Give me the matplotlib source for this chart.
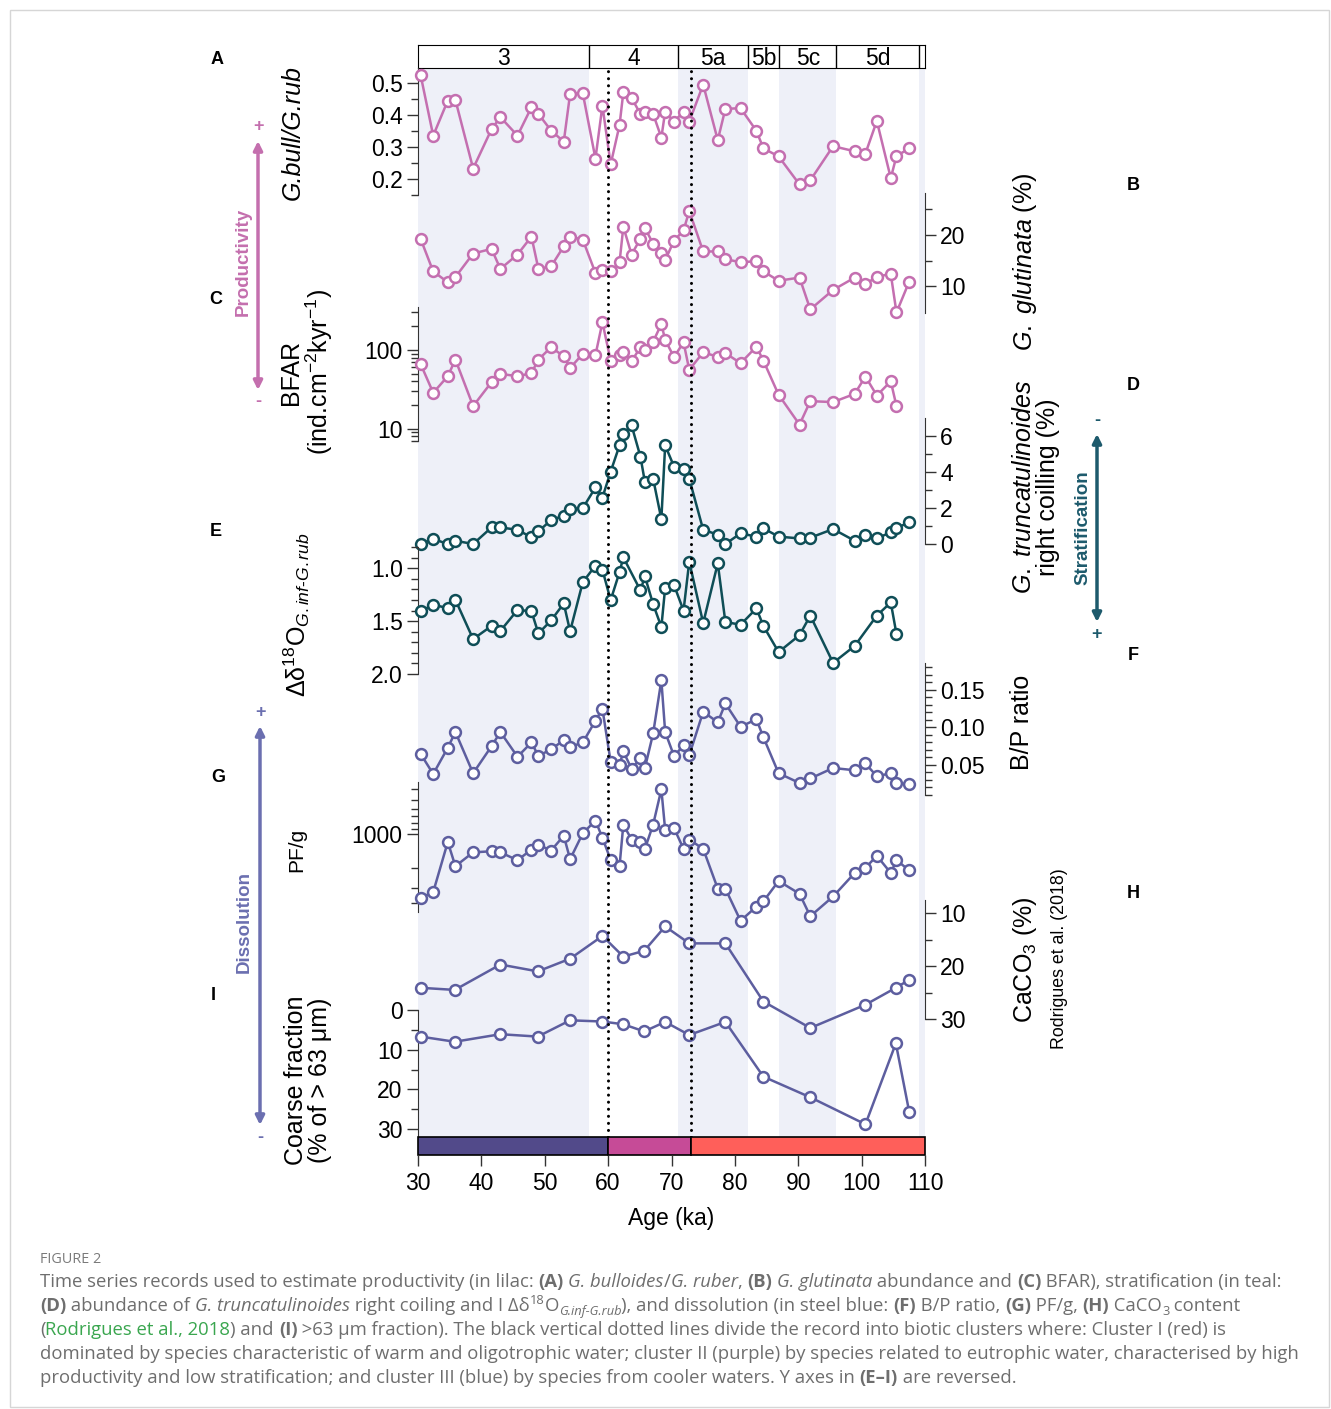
import matplotlib
matplotlib.use("Agg")
import matplotlib.pyplot as plt
from matplotlib.patches import Rectangle, FancyArrowPatch
from matplotlib.ticker import MultipleLocator, NullFormatter, FixedLocator

plt.rcParams['font.family'] = ['Liberation Sans', 'DejaVu Sans']
plt.rcParams['mathtext.fontset'] = 'custom'
plt.rcParams['mathtext.rm'] = 'Liberation Sans'
plt.rcParams['mathtext.it'] = 'Liberation Sans:italic'
plt.rcParams['mathtext.bf'] = 'Liberation Sans:bold'

W, H = 1331, 1409
LILAC = '#c46fb0'
TEAL = '#0f4e57'
STEEL = '#5d5e9f'

# ---- data (ages in ka) ----
AGE = [30.4, 32.4, 34.7, 35.9, 38.7, 41.6, 43.0, 45.7, 47.9, 49.0, 51.0, 53.0, 54.0, 56.0,
       58.0, 59.1, 60.4, 61.8, 62.4, 63.7, 65.1, 65.8, 67.1, 68.4, 69.0, 70.4, 71.9, 72.8,
       75.0, 77.3, 78.5, 80.9, 83.4, 84.5, 86.9, 90.2, 91.9, 95.5, 98.9, 100.6, 102.4,
       104.6, 105.5, 107.5]
BULL_RUB = [0.526, 0.335, 0.445, 0.447, 0.232, 0.355, 0.393, 0.335, 0.424, 0.403,
            0.351, 0.316, 0.466, 0.468, 0.263, 0.429, 0.245, 0.368, 0.471, 0.453,
            0.403, 0.41, 0.403, 0.329, 0.41, 0.379, 0.41, 0.379, 0.495, 0.321,
            0.419, 0.421, 0.35, 0.295, 0.27, 0.182, 0.195, 0.302, 0.286, 0.279,
            0.381, 0.202, 0.271, 0.295]
GLUT = [19.3, 12.9, 10.8, 11.8, 16.4, 17.3, 13.4, 16.2, 19.7, 13.4,
        13.9, 17.8, 19.7, 19.1, 12.6, 13.2, 12.9, 14.7, 21.6, 16.2,
        19.3, 21.4, 18.3, 16.5, 15.1, 18.9, 20.9, 24.7, 16.8, 16.8,
        15.3, 14.7, 14.9, 12.9, 11.1, 11.7, 5.5, 9.3, 11.7, 10.4,
        11.9, 12.4, 4.9, 10.9]
AGE_BFAR = AGE[:-1]
BFAR = [66.6, 28.6, 46.4, 75.5, 19.4, 39, 49.7, 46.4, 50.7, 75.5,
        108, 83, 59, 89, 86, 224, 73, 85, 93, 72,
        108, 100, 127, 213, 134, 81, 125, 56, 93, 82,
        91, 68, 110, 73, 27, 11.3, 22.4, 21.8, 27.7, 46,
        26.4, 40, 19.4]
TRUNC = [0.0, 0.28, 0.0, 0.18, 0.0, 0.92, 0.92, 0.79, 0.37, 0.70,
         1.33, 1.57, 1.94, 1.99, 3.14, 2.58, 4.02, 5.48, 6.13, 6.59,
         4.85, 3.45, 3.63, 1.38, 5.48, 4.30, 4.19, 3.63, 0.79, 0.52,
         0.0, 0.59, 0.41, 0.87, 0.41, 0.31, 0.35, 0.83, 0.18, 0.52,
         0.31, 0.65, 0.89, 1.20]
AGE_DELTA = [30.4, 32.4, 34.7, 35.9, 38.7, 41.6, 43.0, 45.7, 47.9, 49.0, 51.0, 53.0, 54.0,
             56.0, 58.0, 59.1, 60.4, 61.8, 62.4, 65.1, 65.8, 67.1, 68.4, 69.0, 70.4, 71.9,
             72.8, 75.0, 77.3, 78.5, 80.9, 83.4, 84.5, 86.9, 90.2, 91.9, 95.5, 98.9, 102.4,
             104.6, 105.5]
DELTA = [1.407, 1.346, 1.377, 1.299, 1.670, 1.546, 1.593, 1.395, 1.407, 1.617,
         1.494, 1.333, 1.596, 1.133, 0.975, 1.015, 1.302, 1.037, 0.898, 1.210,
         1.077, 1.340, 1.556, 1.185, 1.160, 1.401, 0.938, 1.519, 0.954, 1.509,
         1.534, 1.380, 1.546, 1.793, 1.633, 1.448, 1.895, 1.735, 1.448, 1.324, 1.623]
BP = [0.065, 0.038, 0.073, 0.094, 0.039, 0.075, 0.094, 0.061, 0.080, 0.062,
      0.071, 0.083, 0.074, 0.080, 0.109, 0.125, 0.054, 0.050, 0.068, 0.045,
      0.059, 0.046, 0.092, 0.163, 0.094, 0.062, 0.076, 0.063, 0.121, 0.107,
      0.132, 0.101, 0.111, 0.087, 0.039, 0.026, 0.032, 0.046, 0.043, 0.052,
      0.035, 0.039, 0.026, 0.024]
PFG = [3640, 3228, 1175, 1915, 1448, 1418, 1448, 1698, 1369, 1241,
       1397, 1035, 1664, 986, 762, 1080, 1687, 1915, 828, 1118,
       1175, 1350, 828, 406, 920, 888, 1350, 1118, 1350, 3013,
       3013, 5770, 4325, 3897, 2583, 3342, 5262, 3532, 2198, 1982,
       1552, 2198, 1698, 2080]
AGE_CARB = [30.4, 35.8, 43.0, 48.9, 54.0, 59.1, 62.4, 65.7, 69.0, 72.8, 78.5, 84.5,
            91.9, 100.6, 105.4, 107.5]
CACO3 = [24.1, 24.5, 19.7, 21.0, 18.6, 14.3, 18.2, 17.1, 12.5, 15.7, 15.7, 26.7,
         31.7, 27.3, 24.1, 22.6]
COARSE = [6.7, 8.0, 6.1, 6.7, 2.6, 2.9, 3.6, 5.4, 3.0, 6.3, 3.0, 16.8,
          22.0, 28.8, 8.4, 25.6]

MIS_EDGES = [30, 57, 71, 82, 87, 96, 109, 110]
MIS_LABELS = ['3', '4', '5a', '5b', '5c', '5d', '']
MIS_SHADED = [True, False, True, False, True, False, True]
CLUSTER_EDGES = [30, 60, 73, 110]
CLUSTER_COLORS = ['#524a8a', '#c64b97', '#ff5f5a']
XTICKS = [30, 40, 50, 60, 70, 80, 90, 100, 110]

fig = plt.figure(figsize=(W / 100, H / 100), dpi=100)


def rect(x0, y0, x1, y1):
    return [x0 / W, 1 - y1 / H, (x1 - x0) / W, (y1 - y0) / H]


def fxy(x, y):
    return (x / W, 1 - y / H)


X0, X1 = 418, 925
FS = 16.5

# figure frame
fig.add_artist(Rectangle(fxy(10, 1407), 1319 / W, 1397 / H, transform=fig.transFigure,
                         fill=False, edgecolor='#d6d6d6', lw=1))

# MIS shading
bg = fig.add_axes(rect(X0, 68, X1, 1137), zorder=0)
bg.set_xlim(30, 110)
bg.axis('off')
for a, b, s in zip(MIS_EDGES[:-1], MIS_EDGES[1:], MIS_SHADED):
    if s:
        bg.axvspan(a, b, color='#eef0f8', lw=0)

# MIS header
hd = fig.add_axes(rect(X0, 45, X1, 68), zorder=3)
hd.set_xlim(30, 110)
hd.set_ylim(0, 1)
hd.set_xticks([])
hd.set_yticks([])
for e in MIS_EDGES[1:-1]:
    hd.axvline(e, color='black', lw=1)
for a, b, lab in zip(MIS_EDGES[:-1], MIS_EDGES[1:], MIS_LABELS):
    hd.text((a + b) / 2, 0.42, lab, ha='center', va='center', fontsize=FS)


def panel(top, bot, ylim, side, log=False):
    ax = fig.add_axes(rect(X0, top, X1, bot), zorder=4)
    ax.patch.set_visible(False)
    ax.set_xlim(30, 110)
    if log:
        ax.set_yscale('log')
    ax.set_ylim(*ylim)
    for s in ['top', 'bottom', 'left', 'right']:
        ax.spines[s].set_visible(s == side)
    ax.spines[side].set_color('#333333')
    ax.set_xticks([])
    if side == 'right':
        ax.yaxis.tick_right()
    else:
        ax.yaxis.tick_left()
    ax.tick_params(axis='y', which='major', length=8, width=1, labelsize=FS, pad=3,
                   color='#333333')
    ax.tick_params(axis='y', which='minor', length=5, width=1, color='#333333')
    return ax


def series(ax, x, y, c):
    ax.plot(x, y, '-o', color=c, lw=1.8, ms=7.8, mfc='white', mec=c, mew=1.8,
            clip_on=False, zorder=5)


# A
ax = panel(68, 195, (0.149, 0.547), 'left')
ax.set_yticks([0.2, 0.3, 0.4, 0.5])
ax.yaxis.set_minor_locator(MultipleLocator(0.05))
series(ax, AGE, BULL_RUB, LILAC)

# B
ax = panel(193, 313, (4.8, 28.2), 'right')
ax.set_yticks([10, 20])
ax.yaxis.set_minor_locator(FixedLocator([15, 25]))
series(ax, AGE, GLUT, LILAC)

# C
ax = panel(307, 441, (7, 350), 'left', log=True)
ax.set_yticks([10, 100])
ax.set_yticklabels(['10', '100'])
ax.yaxis.set_minor_formatter(NullFormatter())
series(ax, AGE_BFAR, BFAR, LILAC)

# D
ax = panel(418, 544, (0, 7), 'right')
ax.set_yticks([0, 2, 4, 6])
ax.yaxis.set_minor_locator(FixedLocator([1, 3, 5]))
series(ax, AGE, TRUNC, TEAL)

# E
ax = panel(547, 674, (2.0, 0.8), 'left')
ax.set_yticks([1.0, 1.5, 2.0])
ax.set_yticklabels(['1.0', '1.5', '2.0'])
ax.yaxis.set_minor_locator(MultipleLocator(0.1))
series(ax, AGE_DELTA, DELTA, TEAL)

# F
ax = panel(663, 795, (0.01, 0.186), 'right')
ax.set_yticks([0.05, 0.10, 0.15])
ax.set_yticklabels(['0.05', '0.10', '0.15'])
ax.yaxis.set_minor_locator(MultipleLocator(0.01))
series(ax, AGE, BP, STEEL)

# G
ax = panel(782, 912, (4830, 350), 'left', log=True)
ax.set_yticks([1000])
ax.set_yticklabels(['1000'])
ax.yaxis.set_minor_formatter(NullFormatter())
series(ax, AGE, PFG, STEEL)

# H
ax = panel(900, 1019, (30, 7.5), 'right')
ax.set_yticks([10, 20, 30])
ax.yaxis.set_minor_locator(FixedLocator([15, 25]))
series(ax, AGE_CARB, CACO3, STEEL)

# I
ax = panel(1010, 1137, (32, 0), 'left')
ax.set_yticks([0, 10, 20, 30])
ax.yaxis.set_minor_locator(FixedLocator([5, 15, 25]))
series(ax, AGE_CARB, COARSE, STEEL)

# cluster bar
cb = fig.add_axes(rect(X0, 1137, X1, 1155), zorder=6)
cb.set_xlim(30, 110)
cb.set_ylim(0, 1)
for a, b, c in zip(CLUSTER_EDGES[:-1], CLUSTER_EDGES[1:], CLUSTER_COLORS):
    cb.add_patch(Rectangle((a, 0), b - a, 1, facecolor=c, edgecolor='black', lw=1.2,
                           clip_on=False))
for s in cb.spines.values():
    s.set_visible(False)
cb.set_yticks([])
cb.set_xticks(XTICKS)
cb.tick_params(axis='x', length=8, width=1, labelsize=FS, pad=4, color='#333333')
cb.set_xlabel('Age (ka)', fontsize=FS, labelpad=9)

# dotted cluster boundaries
dl = fig.add_axes(rect(X0, 68, X1, 1137), zorder=10)
dl.axis('off')
dl.set_xlim(30, 110)
dl.set_ylim(0, 1)
for c in CLUSTER_EDGES[1:-1]:
    dl.axvline(c, color='black', lw=2.2, ls=(0, (0.01, 2.3)), dash_capstyle='round')

# panel letters
for lab, x, y in [('A', 217, 60), ('B', 1133, 185), ('C', 216, 299), ('D', 1133, 385),
                  ('E', 216, 532), ('F', 1133, 656), ('G', 218, 778), ('H', 1133, 893),
                  ('I', 213, 996)]:
    fig.text(*fxy(x, y), lab, fontsize=13, fontweight='bold', ha='center', va='center')

# axis titles
lab_kw = dict(rotation=90, ha='center', va='center', fontsize=18, multialignment='center')
fig.text(*fxy(293, 133), 'G.bull/G.rub', style='italic', **lab_kw)
fig.text(*fxy(307, 372), 'BFAR\n(ind.cm$^{-2}$kyr$^{-1}$)', linespacing=1.05, **lab_kw)
fig.text(*fxy(297, 615), 'Δδ$^{18}$O$_{\\it{G.inf‐G.rub}}$', **lab_kw)
fig.text(*fxy(297, 850), 'PF/g', rotation=90, ha='center', va='center', fontsize=15)
fig.text(*fxy(308, 1080), 'Coarse fraction\n(% of > 63 μm)', linespacing=1.05, **lab_kw)
fig.text(*fxy(1025, 262), '$\\it{G.\\ glutinata}$ (%)', **lab_kw)
fig.text(*fxy(1036, 487), '$\\it{G.\\ truncatulinoides}$\nright coilling (%)',
         linespacing=1.0, **lab_kw)
fig.text(*fxy(1022, 722), 'B/P ratio', **lab_kw)
fig.text(*fxy(1025, 960), 'CaCO$_3$ (%)', **lab_kw)
fig.text(*fxy(1060, 959), 'Rodrigues et al. (2018)', rotation=90, ha='center', va='center',
         fontsize=12.8)


def arrow(x, y0, y1, c, label, lx, ly, top_sign, bot_sign):
    fig.add_artist(FancyArrowPatch(fxy(x, y0), fxy(x, y1), transform=fig.transFigure,
                                   arrowstyle='<|-|>', mutation_scale=13, lw=2.5, color=c,
                                   shrinkA=0, shrinkB=0))
    fig.text(*fxy(lx, ly), label, rotation=90, ha='center', va='center', fontsize=13.5,
             fontweight='bold', color=c)
    fig.text(*fxy(x, y0 - 14), top_sign, ha='center', va='center', fontsize=13,
             fontweight='bold', color=c)
    fig.text(*fxy(x, y1 + 12), bot_sign, ha='center', va='center', fontsize=13,
             fontweight='bold', color=c)


arrow(258, 141, 390, '#c46fae', 'Productivity', 243, 262, '+', '-')
arrow(1097, 434, 622, '#1d5a6c', 'Stratification', 1083, 528, '-', '+')
arrow(260, 726, 1125, '#6b6fb0', 'Dissolution', 244, 922, '+', '-')

# caption
R = fig.canvas.get_renderer()
CAP_FONT = ['Open Sans', 'DejaVu Sans']
GRAY = '#6e6e6e'


def style_kw(st, fs):
    tags = st.split()
    kw = dict(fontsize=fs, color=GRAY, family=CAP_FONT)
    dy = 0
    if 'bold' in tags:
        kw['fontweight'] = 'bold'
    if 'it' in tags:
        kw['style'] = 'italic'
    if 'green' in tags:
        kw['color'] = '#3aa64f'
    if 'sup' in tags:
        kw['fontsize'] = fs * 0.7
        dy = -7
    if 'sub' in tags:
        kw['fontsize'] = fs * 0.7
        dy = 4
    return kw, dy


def text_w(s, kw):
    t = fig.text(0, 0, s, **kw)
    w = t.get_window_extent(renderer=R).width
    t.remove()
    return w


def rich_line(x, y, pieces, fs, draw=True):
    for s, st in pieces:
        kw, dy = style_kw(st, fs)
        w = text_w('|' + s + '|', kw) - text_w('||', kw)
        if draw:
            fig.text(*fxy(x, y + dy), s, va='baseline', ha='left', **kw)
        x += w
    return x


CAPTION = [
    [('Time series records used to estimate productivity (in lilac: ', ''), ('(A)', 'bold'),
     (' ', ''), ('G. bulloides', 'it'), ('/', ''), ('G. ruber', 'it'), (', ', ''),
     ('(B)', 'bold'), (' ', ''), ('G. glutinata', 'it'), (' abundance and ', ''),
     ('(C)', 'bold'), (' BFAR), stratification (in teal:', '')],
    [('(D)', 'bold'), (' abundance of ', ''), ('G. truncatulinoides', 'it'),
     (' right coiling and I Δδ', ''), ('18', 'sup'), ('O', ''), ('G.inf-G.rub', 'it sub'),
     ('), and dissolution (in steel blue: ', ''), ('(F)', 'bold'), (' B/P ratio, ', ''),
     ('(G)', 'bold'), (' PF/g, ', ''), ('(H)', 'bold'), (' CaCO', ''), ('3', 'sub'),
     (' content', '')],
    [('(', ''), ('Rodrigues et al., 2018', 'green'), (') and ', ''), ('(I)', 'bold'),
     (' >63 μm fraction). The black vertical dotted lines divide the record into biotic '
      'clusters where: Cluster I (red) is', '')],
    [('dominated by species characteristic of warm and oligotrophic water; cluster II '
      '(purple) by species related to eutrophic water, characterised by high', '')],
    [('productivity and low stratification; and cluster III (blue) by species from cooler '
      'waters. Y axes in ', ''), ('(E–I)', 'bold'), (' are reversed.', '')],
]

w0 = rich_line(40, 0, CAPTION[0], 13, draw=False) - 40
cap_fs = 13 * 1236 / w0
fig.text(*fxy(40, 1263), 'FIGURE 2', fontsize=cap_fs * 0.78, color='#7a7a7a',
         family=CAP_FONT, va='baseline')
for i, line in enumerate(CAPTION):
    rich_line(40, 1287 + 24 * i, line, cap_fs)

fig.savefig('out.png', dpi=100)
